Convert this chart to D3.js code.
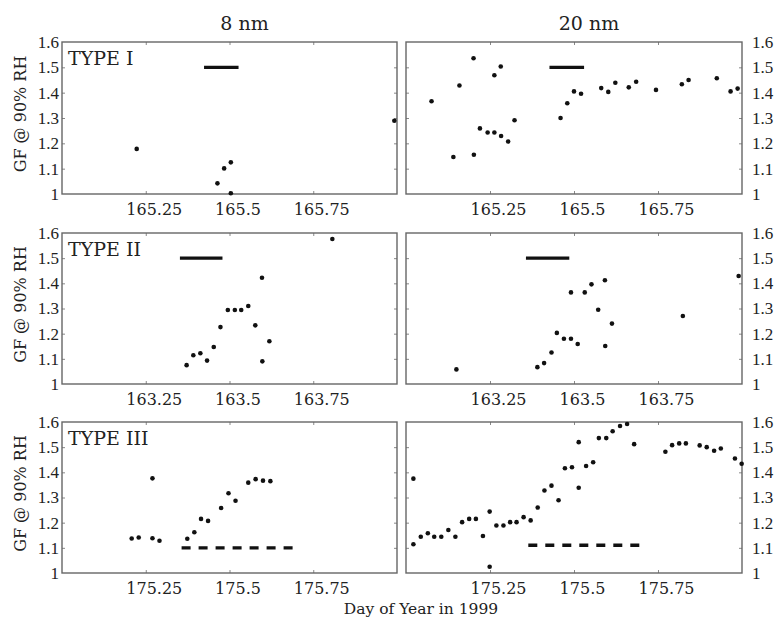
<!DOCTYPE html>
<html>
<head>
<meta charset="utf-8">
<script src="https://cdn.jsdelivr.net/npm/d3@7"></script>
<style>
  html, body { margin: 0; padding: 0; background: #fff; }
  svg { display: block; }
  text { font-family: "DejaVu Serif", "Liberation Serif", serif; fill: #222; }
</style>
</head>
<body>
<div id="chart"></div>
<script>
// ---------------- DATA ----------------
const columnTitles = ["8 nm", "20 nm"];
const rowLabels = ["TYPE I", "TYPE II", "TYPE III"];
const dayStarts = [165, 163, 175];
const xTickValues = [0.25, 0.5, 0.75];          // offsets from the day start
const yTickValues = [1, 1.1, 1.2, 1.3, 1.4, 1.5, 1.6];
const yAxisTitle = "GF @ 90% RH";
const xAxisTitle = "Day of Year in 1999";

// Type I, 8 nm
const typeI_8nm_day = [165.223, 165.464, 165.484, 165.504, 165.504, 165.992];
const typeI_8nm_gf  = [1.178, 1.042, 1.101, 1.125, 1.003, 1.289];
// Type I, 20 nm
const typeI_20nm_day = [165.076, 165.141, 165.159, 165.201, 165.202, 165.220, 165.243, 165.263, 165.263, 165.282,
  165.283, 165.304, 165.323, 165.460, 165.480, 165.500, 165.521, 165.581, 165.602, 165.623,
  165.663, 165.685, 165.744, 165.821, 165.841, 165.925, 165.966, 165.987];
const typeI_20nm_gf = [1.366, 1.146, 1.428, 1.536, 1.155, 1.259, 1.243, 1.243, 1.469, 1.503,
  1.229, 1.207, 1.291, 1.300, 1.358, 1.405, 1.396, 1.418, 1.403, 1.439,
  1.421, 1.443, 1.411, 1.433, 1.450, 1.457, 1.405, 1.416];
// Type II, 8 nm
const typeII_8nm_day = [163.372, 163.392, 163.413, 163.433, 163.453, 163.473, 163.495, 163.516, 163.535, 163.556,
  163.577, 163.597, 163.598, 163.619, 163.807];
const typeII_8nm_gf = [1.075, 1.114, 1.122, 1.093, 1.147, 1.226, 1.294, 1.294, 1.294, 1.310,
  1.233, 1.422, 1.090, 1.170, 1.576];
// Type II, 20 nm
const typeII_20nm_day = [163.150, 163.391, 163.411, 163.433, 163.449, 163.470, 163.491, 163.491, 163.511, 163.532,
  163.552, 163.572, 163.592, 163.593, 163.613, 163.824, 163.990];
const typeII_20nm_gf = [1.058, 1.067, 1.083, 1.125, 1.203, 1.180, 1.180, 1.364, 1.159, 1.364,
  1.396, 1.295, 1.412, 1.151, 1.240, 1.270, 1.429];
// Type III, 8 nm
const typeIII_8nm_day = [175.208, 175.229, 175.270, 175.270, 175.291, 175.374, 175.395, 175.415, 175.436, 175.475,
  175.497, 175.518, 175.556, 175.578, 175.600, 175.622];
const typeIII_8nm_gf = [1.137, 1.141, 1.376, 1.138, 1.128, 1.136, 1.162, 1.215, 1.207, 1.258,
  1.317, 1.287, 1.359, 1.373, 1.367, 1.365];
// Type III, 20 nm
const typeIII_20nm_day = [175.022, 175.022, 175.044, 175.065, 175.084, 175.105, 175.126, 175.147, 175.167, 175.188,
  175.208, 175.229, 175.249, 175.249, 175.269, 175.290, 175.310, 175.329, 175.350, 175.371,
  175.392, 175.412, 175.433, 175.454, 175.473, 175.494, 175.514, 175.514, 175.536, 175.557,
  175.574, 175.596, 175.615, 175.637, 175.658, 175.679, 175.772, 175.792, 175.813, 175.833,
  175.874, 175.895, 175.917, 175.937, 175.979, 175.999];
const typeIII_20nm_gf = [1.375, 1.114, 1.144, 1.158, 1.144, 1.144, 1.171, 1.144, 1.202, 1.215,
  1.215, 1.147, 1.244, 1.025, 1.189, 1.189, 1.202, 1.202, 1.222, 1.209,
  1.260, 1.328, 1.347, 1.289, 1.416, 1.420, 1.520, 1.339, 1.425, 1.440,
  1.536, 1.536, 1.563, 1.584, 1.592, 1.512, 1.482, 1.508, 1.515, 1.515,
  1.507, 1.500, 1.486, 1.495, 1.455, 1.434];

// Reference intervals (start day, end day, GF level)
const typeI_8nm_bar   = [165.424, 165.527, 1.5];
const typeI_20nm_bar  = [165.427, 165.530, 1.5];
const typeII_8nm_bar  = [163.352, 163.479, 1.5];
const typeII_20nm_bar = [163.357, 163.486, 1.5];
const typeIII_8nm_bar  = [175.357, 175.705, 1.1];
const typeIII_20nm_bar = [175.364, 175.708, 1.11];

// ---------------- LAYOUT ----------------
const W = 775, H = 620;
const colX = [[62, 397], [406, 742]];
const rowY = [[42, 194], [233, 384], [422, 573]];

const panels = [
  { row: 0, col: 0, day: typeI_8nm_day,   gf: typeI_8nm_gf,   bar: typeI_8nm_bar,   dashed: false },
  { row: 0, col: 1, day: typeI_20nm_day,  gf: typeI_20nm_gf,  bar: typeI_20nm_bar,  dashed: false },
  { row: 1, col: 0, day: typeII_8nm_day,  gf: typeII_8nm_gf,  bar: typeII_8nm_bar,  dashed: false },
  { row: 1, col: 1, day: typeII_20nm_day, gf: typeII_20nm_gf, bar: typeII_20nm_bar, dashed: false },
  { row: 2, col: 0, day: typeIII_8nm_day,  gf: typeIII_8nm_gf,  bar: typeIII_8nm_bar,  dashed: true },
  { row: 2, col: 1, day: typeIII_20nm_day, gf: typeIII_20nm_gf, bar: typeIII_20nm_bar, dashed: true }
];

const svg = d3.select("#chart").append("svg")
  .attr("width", W).attr("height", H)
  .attr("viewBox", `0 0 ${W} ${H}`);

svg.append("rect").attr("width", W).attr("height", H).attr("fill", "#fff");

const frameColor = "#666";
const fmtY = d3.format(".1~f");

panels.forEach(p => {
  const [x0, x1] = colX[p.col];
  const [y0, y1] = rowY[p.row];
  const d0 = dayStarts[p.row];
  const x = d3.scaleLinear().domain([d0, d0 + 1]).range([x0, x1]);
  const y = d3.scaleLinear().domain([1, 1.6]).range([y1, y0]);
  const xt = xTickValues.map(v => d0 + v);
  const g = svg.append("g");

  // Bottom axis with labels (ticks point inward)
  const bx = g.append("g").attr("transform", `translate(0,${y1})`)
    .call(d3.axisBottom(x).tickValues(xt).tickSizeInner(-3).tickSizeOuter(0).tickPadding(10)
      .tickFormat(d => String(+d.toFixed(2))));
  // Top inner ticks
  const tx = g.append("g").attr("transform", `translate(0,${y0})`)
    .call(d3.axisTop(x).tickValues(xt).tickSizeInner(-3).tickSizeOuter(0).tickFormat(""));
  // Left and right axes
  const yInner = yTickValues.filter(v => v > 1 && v < 1.6);
  const lx = g.append("g").attr("transform", `translate(${x0},0)`)
    .call(d3.axisLeft(y).tickValues(p.col === 0 ? yTickValues : yInner)
      .tickSizeInner(-3).tickSizeOuter(0).tickPadding(3)
      .tickFormat(p.col === 0 ? fmtY : ""));
  const rx = g.append("g").attr("transform", `translate(${x1},0)`)
    .call(d3.axisRight(y).tickValues(p.col === 1 ? yTickValues : yInner)
      .tickSizeInner(-3).tickSizeOuter(0).tickPadding(10)
      .tickFormat(p.col === 1 ? fmtY : ""));

  [bx, tx].forEach(a => {
    a.select(".domain").remove();
    a.selectAll(".tick line").attr("stroke", "#888").attr("stroke-width", 1);
    a.selectAll(".tick text")
      .style("font-family", '"DejaVu Serif", serif')
      .style("font-size", "16px").attr("fill", "#222");
  });
  [lx, rx].forEach(a => {
    a.select(".domain").remove();
    a.selectAll(".tick line").attr("stroke", "#888").attr("stroke-width", 1);
    a.selectAll(".tick text")
      .style("font-family", '"Liberation Serif", "DejaVu Serif", serif')
      .style("font-size", "17px").attr("fill", "#222");
    // no tick marks at the very edges (1 and 1.6)
    a.selectAll(".tick").filter(d => d === 1 || d === 1.6).select("line").remove();
  });
  bx.selectAll(".tick text").attr("dx", 8);

  // Frame
  g.append("rect")
    .attr("x", x0).attr("y", y0).attr("width", x1 - x0).attr("height", y1 - y0)
    .attr("fill", "none").attr("stroke", frameColor).attr("stroke-width", 1.4);

  // Reference interval bar
  g.append("line")
    .attr("x1", x(p.bar[0])).attr("x2", x(p.bar[1]))
    .attr("y1", y(p.bar[2])).attr("y2", y(p.bar[2]))
    .attr("stroke", "#111").attr("stroke-width", 3.4)
    .attr("stroke-dasharray", p.dashed ? "9,8" : null);

  // Points
  g.selectAll("circle.pt").data(d3.range(p.day.length)).enter().append("circle")
    .attr("class", "pt")
    .attr("cx", i => x(p.day[i])).attr("cy", i => y(p.gf[i]))
    .attr("r", 2.3).attr("fill", "#111");

  // Row label and y-axis title (left column only)
  if (p.col === 0) {
    g.append("text").attr("x", x0 + 6).attr("y", y0 + 23)
      .style("font-size", "19px").text(rowLabels[p.row]);
    g.append("text")
      .attr("transform", `translate(26,${(y0 + y1) / 2 - 4}) rotate(-90)`)
      .attr("text-anchor", "middle")
      .style("font-size", "16px").attr("fill", "#333").text(yAxisTitle);
  }
});

// Column titles
svg.selectAll("text.coltitle").data(columnTitles).enter().append("text")
  .attr("class", "coltitle")
  .attr("x", (d, i) => (colX[i][0] + colX[i][1]) / 2 + 15)
  .attr("y", 30).attr("text-anchor", "middle")
  .style("font-size", "19px").attr("fill", "#333").text(d => d);

// X-axis title
svg.append("text").attr("x", 421).attr("y", 614).attr("text-anchor", "middle")
  .style("font-size", "15.5px").text(xAxisTitle);
</script>
</body>
</html>
